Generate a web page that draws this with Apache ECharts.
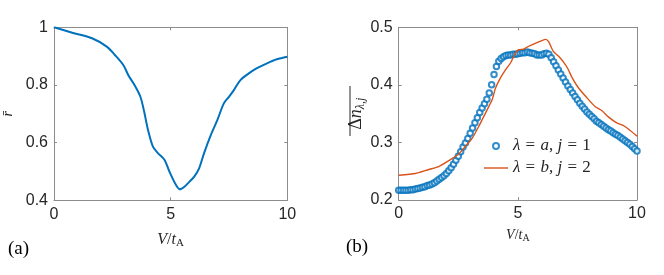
<!DOCTYPE html>
<html>
<head>
<meta charset="utf-8">
<script src="https://cdn.jsdelivr.net/npm/echarts@6/dist/echarts.min.js"></script>
<style>html,body{margin:0;padding:0;background:#fff;}#c{width:664px;height:275px;}</style>
</head>
<body>
<div id="c"></div>
<script>
// Panel (a): mean r vs V/tA
const xA = [0, 0.78, 1.63, 2.26, 2.61, 2.97, 3.2, 3.45, 3.7, 3.85, 4.03, 4.24, 4.46, 4.74, 4.95, 5.23, 5.40, 5.59, 5.80, 6.01, 6.22, 6.43, 6.72, 7.0, 7.28, 7.5, 7.71, 7.99, 8.35, 8.7, 9.13, 9.55, 10];
const rA = [1.0, 0.981, 0.962, 0.933, 0.904, 0.869, 0.832, 0.800, 0.760, 0.713, 0.644, 0.586, 0.563, 0.540, 0.499, 0.453, 0.438, 0.447, 0.464, 0.482, 0.511, 0.563, 0.626, 0.678, 0.736, 0.759, 0.782, 0.817, 0.840, 0.858, 0.875, 0.889, 0.898];

// Panel (b): blue markers (lambda=a, j=1), step 0.1 in V/tA
const xB = Array.from({length: 101}, (_, i) => +(i * 0.1).toFixed(1));
const nA1 = [0.217,0.217,0.217,0.217,0.217,0.218,0.218,0.219,0.220,0.221,
             0.222,0.223,0.225,0.226,0.228,0.230,0.233,0.236,0.239,0.242,
             0.246,0.251,0.256,0.262,0.269,0.276,0.284,0.292,0.299,0.307,
             0.316,0.325,0.334,0.343,0.352,0.360,0.367,0.375,0.386,0.400,
             0.418,0.432,0.441,0.446,0.449,0.451,0.452,0.452,0.453,0.453,
             0.454,0.455,0.456,0.456,0.457,0.456,0.455,0.454,0.452,0.452,
             0.452,0.454,0.455,0.453,0.447,0.440,0.433,0.426,0.419,0.412,
             0.405,0.398,0.392,0.386,0.380,0.374,0.368,0.363,0.358,0.353,
             0.349,0.345,0.341,0.337,0.334,0.331,0.328,0.325,0.322,0.320,
             0.317,0.314,0.312,0.309,0.306,0.303,0.300,0.297,0.293,0.289,
             0.285];
// Orange line (lambda=b, j=2)
const xL = [0, 0.7, 1.26, 1.68, 2.17, 2.52, 2.8, 3.08, 3.36, 3.64, 3.92, 4.06, 4.27, 4.48, 4.69, 4.9, 5.03, 5.24, 5.45, 5.73, 6.01, 6.17, 6.29, 6.49, 6.7, 6.91, 7.1, 7.26, 7.54, 7.89, 8.25, 8.53, 8.81, 9.15, 9.4, 9.65, 10];
const nB2 = [0.243, 0.246, 0.253, 0.258, 0.270, 0.280, 0.293, 0.307, 0.328, 0.351, 0.374, 0.394, 0.412, 0.426, 0.438, 0.455, 0.461, 0.462, 0.467, 0.472, 0.477, 0.479, 0.475, 0.458, 0.450, 0.440, 0.428, 0.414, 0.395, 0.378, 0.362, 0.355, 0.344, 0.334, 0.330, 0.323, 0.311];

const xTicks = {min: 0, max: 10, interval: 5};
const yTicksA = {min: 0.4, max: 1, interval: 0.2};
const yTicksB = {min: 0.2, max: 0.5, interval: 0.1};

const nameA1 = 'lambda=a, j=1';
const nameB2 = 'lambda=b, j=2';

const BLUE = '#0072BD', ORANGE = '#D95319', AX = '#8c8c8c', TXT = '#262626';
const SERIF = '"Liberation Serif","Times New Roman",serif';
const SANS = '"Liberation Sans",Arial,sans-serif';

const chart = echarts.init(document.getElementById('c'), null, {renderer: 'canvas'});

function xAx(gi, pos, name, nameSize) {
  const a = {
    type: 'value', gridIndex: gi, position: pos, min: xTicks.min, max: xTicks.max, interval: xTicks.interval,
    axisLine: {show: true, onZero: false, lineStyle: {color: AX, width: 1}},
    axisTick: {show: true, inside: true, length: 3, lineStyle: {color: AX}},
    splitLine: {show: false},
    axisLabel: {show: pos === 'bottom', color: TXT, fontFamily: SANS, fontSize: 16, margin: 6}
  };
  if (name) {
    a.name = '{i|V}{n|/}{i|t}{s|A}';
    a.nameLocation = 'middle';
    a.nameGap = nameSize > 15 ? 30 : 27;
    a.nameTextStyle = {
      rich: {
        i: {fontFamily: SERIF, fontStyle: 'italic', fontSize: nameSize, color: TXT},
        n: {fontFamily: SERIF, fontSize: nameSize, color: TXT},
        s: {fontFamily: SERIF, fontSize: Math.round(nameSize * 0.7), color: TXT, verticalAlign: 'bottom', padding: [Math.round(nameSize*0.45), 0, 0, 0]}
      }
    };
  }
  return a;
}
function yAx(gi, pos, t) {
  return {
    type: 'value', gridIndex: gi, position: pos, min: t.min, max: t.max, interval: t.interval,
    axisLine: {show: true, onZero: false, lineStyle: {color: AX, width: 1}},
    axisTick: {show: true, inside: true, length: 3, lineStyle: {color: AX}},
    splitLine: {show: false},
    axisLabel: {show: pos === 'left', color: TXT, fontFamily: SANS, fontSize: 16, margin: 6,
      formatter: v => String(+v.toFixed(2))}
  };
}

const yA = yAx(0, 'left', yTicksA);
yA.name = 'r\u0304';
yA.nameLocation = 'middle';
yA.nameGap = 39;
yA.nameTextStyle = {fontFamily: SERIF, fontStyle: 'italic', fontSize: 14, color: TXT};

const yB = yAx(1, 'left', yTicksB);
yB.name = '{d|\u0394}{i|n}{s|\u03bb,j}';
yB.nameLocation = 'middle';
yB.nameGap = 29;
yB.nameTextStyle = {
  rich: {
    d: {fontFamily: SERIF, fontSize: 18, color: TXT},
    i: {fontFamily: SERIF, fontStyle: 'italic', fontSize: 18, color: TXT},
    s: {fontFamily: SERIF, fontStyle: 'italic', fontSize: 12, color: TXT, verticalAlign: 'bottom', padding: [8, 0, 0, 0]}
  }
};

const option = {
  animation: false,
  backgroundColor: '#fff',
  grid: [
    {left: 51.7, top: 27.3, width: 235.6, height: 173},
    {left: 398.7, top: 27.3, width: 238.3, height: 172.7}
  ],
  xAxis: [xAx(0, 'bottom', true, 16), xAx(0, 'top'), xAx(1, 'bottom', true, 14), xAx(1, 'top')],
  yAxis: [yA, yAx(0, 'right', yTicksA), yB, yAx(1, 'right', yTicksB)],
  title: [
    {text: '(a)', left: 3, top: 235, textStyle: {fontFamily: SERIF, fontWeight: 'normal', fontSize: 19, color: '#000'}},
    {text: '(b)', left: 341, top: 233, textStyle: {fontFamily: SERIF, fontWeight: 'normal', fontSize: 19, color: '#000'}}
  ],
  legend: {
    orient: 'vertical', left: 479, top: 132, itemWidth: 24, itemHeight: 6, itemGap: 4,
    data: [{name: nameA1}, {name: nameB2, icon: 'path://M0,0L24,0L24,1.4L0,1.4Z', itemStyle: {color: ORANGE}}],
    formatter: n => n === nameA1 ? '{i|\u03bb} {e|=} {i|a}, {i|j} {e|=} 1' : '{i|\u03bb} {e|=} {i|b}, {i|j} {e|=} 2',
    textStyle: {
      fontFamily: SERIF, fontSize: 17, color: TXT, lineHeight: 18,
      rich: {
        i: {fontFamily: SERIF, fontStyle: 'italic', fontSize: 17, color: TXT, lineHeight: 18},
        e: {fontFamily: SERIF, fontSize: 17, color: TXT, lineHeight: 18, padding: [0, 1, 0, 1]}
      }
    }
  },
  series: [
    {type: 'line', xAxisIndex: 0, yAxisIndex: 0, data: xA.map((x, i) => [x, rA[i]]),
      smooth: 0.3, showSymbol: false, symbol: 'none', lineStyle: {color: BLUE, width: 2}, itemStyle: {color: BLUE}},
    {type: 'line', name: nameB2, xAxisIndex: 2, yAxisIndex: 2, data: xL.map((x, i) => [x, nB2[i]]),
      smooth: 0.2, symbol: 'none', lineStyle: {color: ORANGE, width: 1.4}, itemStyle: {color: ORANGE}},
    {type: 'scatter', name: nameA1, xAxisIndex: 2, yAxisIndex: 2, data: xB.map((x, i) => [x, nA1[i]]),
      symbol: 'emptyCircle', symbolSize: 5.5, itemStyle: {color: BLUE, borderColor: BLUE, borderWidth: 1.5}}
  ],
  graphic: [{type: 'line', shape: {x1: 350, y1: 86, x2: 350, y2: 136}, style: {stroke: TXT, lineWidth: 1}}]
};
chart.setOption(option);
</script>
</body>
</html>
